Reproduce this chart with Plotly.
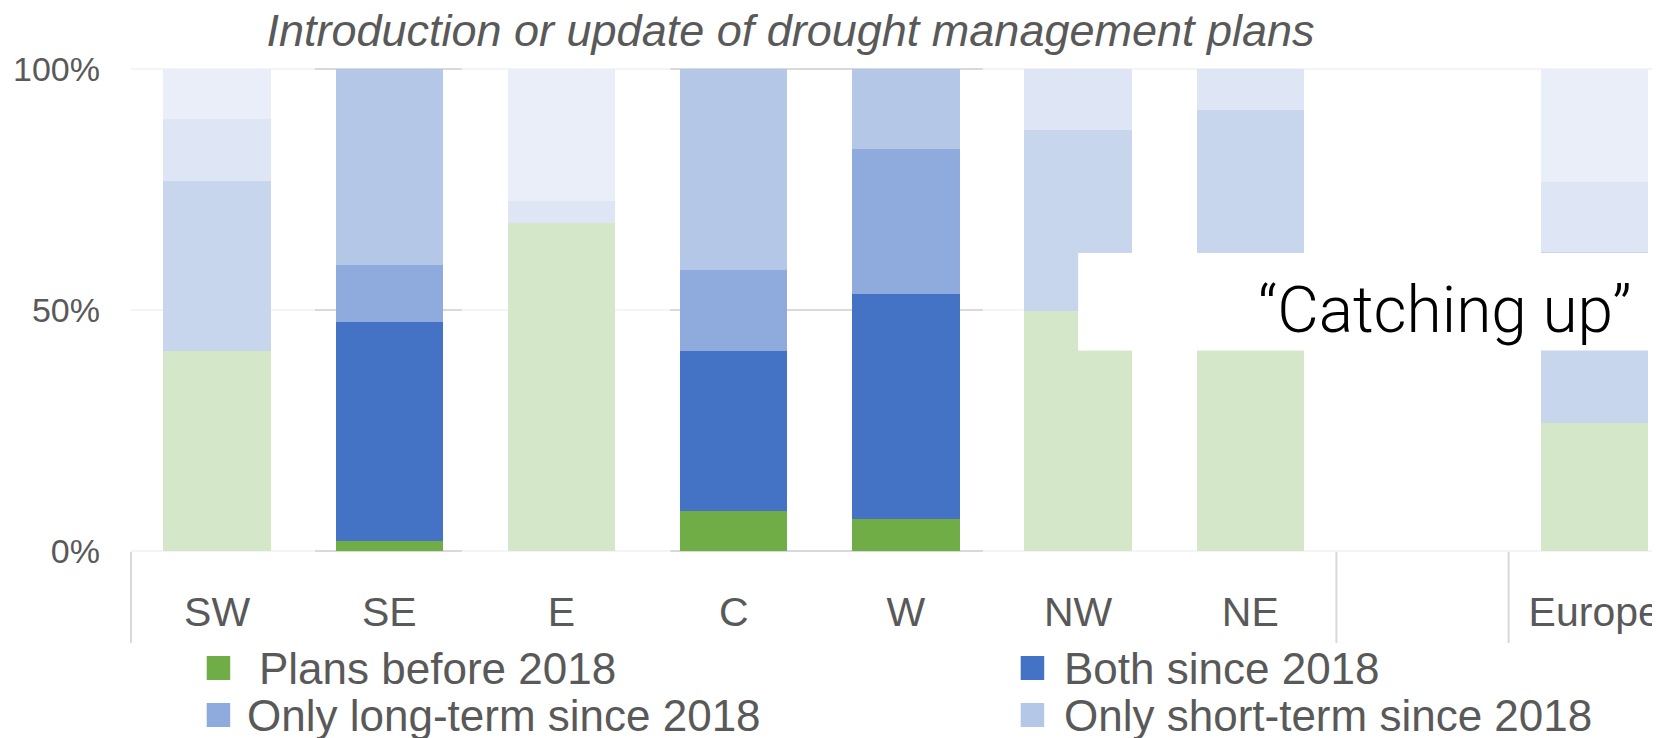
import plotly.graph_objects as go

# values (% of plans per region)
regions = ["SW", "SE", "E", "C", "W", "NW", "NE", " ", "Europe"]
plans_before = [41.5, 2.1, 68.0, 8.3, 6.7, 49.7, 45.0, None, 26.6]
both_since = [35.3, 45.5, 0.0, 33.3, 46.6, 37.6, 46.4, None, 35.4]
long_term = [12.8, 11.8, 4.5, 16.7, 30.0, 12.7, 8.6, None, 14.6]
short_term = [10.4, 40.6, 27.5, 41.7, 16.7, 0.0, 0.0, None, 23.4]

series_names = [
    "Plans before 2018",
    "Both since 2018",
    "Only long-term since 2018",
    "Only short-term since 2018",
]
series_colors = ["#70ad47", "#4472c4", "#8faadc", "#b4c7e7"]

# the page body has an 8px margin, so the figure is made 8px smaller
PAGE_OFF = 8
W, H = 1660 - PAGE_OFF, 738 - PAGE_OFF
ML, MR, MT, MB = 123, 0, 56, 182
X_RANGE = [-0.5, 8.379]
Y_RANGE = [-1, 101]
TEXT = "#595959"
FONT = "Liberation Sans, Arial, sans-serif"


def px_x(p):
    # screen pixel -> paper (horizontal)
    return (p - PAGE_OFF - ML) / (W - ML - MR)


def px_y(p):
    # screen pixel -> paper (vertical)
    return (H - MB - (p - PAGE_OFF)) / (H - MT - MB)


fig = go.Figure()

for name, vals, color in zip(
    series_names, [plans_before, both_since, long_term, short_term], series_colors
):
    fig.add_trace(
        go.Bar(
            x=regions,
            y=vals,
            name=name,
            marker=dict(color=color, line=dict(width=0)),
            showlegend=False,
        )
    )

# white veil over the regions that are not highlighted (SE, C and W stay bright)
for x0, x1 in [(-1, 0.569), (1.421, 2.631), (4.447, 10)]:
    fig.add_shape(
        type="rect", xref="x", yref="y", x0=x0, x1=x1, y0=-3, y1=103,
        fillcolor="white", opacity=0.7, line_width=0, layer="above",
    )

# white box holding the "Catching up" callout
fig.add_shape(
    type="rect", xref="x", yref="y", x0=5.0, x1=10, y0=41.6, y1=61.8,
    fillcolor="white", line_width=0, layer="above",
)
fig.add_annotation(
    x=8.22, y=50, xref="x", yref="y", xanchor="right", yanchor="middle",
    text="\u201cCatching up\u201d", showarrow=False,
    font=dict(family="Roboto, Liberation Sans, sans-serif", size=64, color="black", weight=300),
)

# category group dividers below the axis
for c in [-0.5, 6.5, 7.5]:
    xp = (c - X_RANGE[0]) / (X_RANGE[1] - X_RANGE[0])
    fig.add_shape(
        type="line", xref="paper", yref="paper", x0=xp, x1=xp,
        y0=px_y(552), y1=px_y(643), line=dict(color="#d9d9d9", width=2),
    )

# legend drawn by hand (two columns, large swatches)
legend_pos = [(206.7, 668, 256.7), (1020.7, 668, 1061.7), (206.7, 715, 245), (1020.7, 715, 1061.7)]
for (sx, cy, tx), name, color in zip(legend_pos, series_names, series_colors):
    fig.add_shape(
        type="rect", xref="paper", yref="paper",
        x0=px_x(sx), x1=px_x(sx + 23.5), y0=px_y(cy - 12), y1=px_y(cy + 12),
        fillcolor=color, line_width=0,
    )
    fig.add_annotation(
        x=px_x(tx), y=px_y(cy), xref="paper", yref="paper",
        xanchor="left", yanchor="middle", text=name, showarrow=False,
        font=dict(family=FONT, size=44, color=TEXT),
    )

fig.update_layout(
    template="none",
    width=W,
    height=H,
    autosize=False,
    margin=dict(l=ML, r=MR, t=MT, b=MB, pad=0),
    barmode="stack",
    bargap=0.376,
    plot_bgcolor="white",
    paper_bgcolor="white",
    font=dict(family=FONT, color=TEXT),
    showlegend=False,
    title=dict(
        text="Introduction or update of drought management plans",
        x=(790.5 - PAGE_OFF) / W, xref="container", xanchor="center",
        y=1 - (30 - PAGE_OFF) / H, yref="container", yanchor="middle",
        font=dict(family=FONT, size=45, color=TEXT, style="italic"),
        automargin=False,
    ),
    xaxis=dict(
        type="category",
        categoryorder="array",
        categoryarray=regions,
        range=X_RANGE,
        showgrid=False,
        showline=False,
        zeroline=False,
        ticks="",
        ticklabelstandoff=28,
        tickfont=dict(size=41, color=TEXT),
        automargin=False,
        fixedrange=True,
    ),
    yaxis=dict(
        range=Y_RANGE,
        tickvals=[0, 50, 100],
        ticktext=["0%", "50%", "100%"],
        showgrid=True,
        gridcolor="#d9d9d9",
        gridwidth=2,
        zeroline=False,
        showline=False,
        ticks="",
        ticklabelstandoff=30,
        tickfont=dict(size=34, color=TEXT),
        automargin=False,
        fixedrange=True,
    ),
)

fig.write_html("out.html")
